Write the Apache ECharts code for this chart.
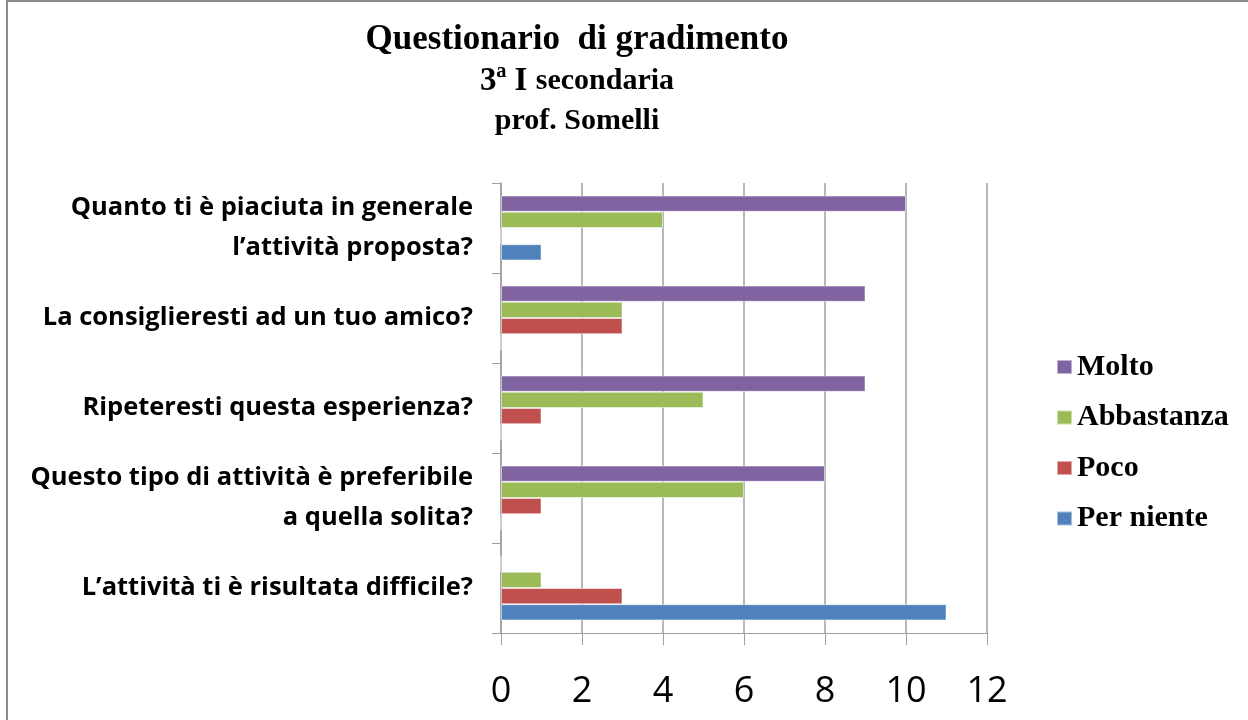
<!DOCTYPE html>
<html>
<head>
<meta charset="utf-8">
<script src="https://cdn.jsdelivr.net/npm/echarts@6/dist/echarts.min.js"></script>
<style>
  html, body { margin: 0; padding: 0; background: #fff; }
  #chart { width: 1248px; height: 720px; }
</style>
</head>
<body>
<div id="chart"></div>
<script>
// categories, bottom to top as the y axis draws them
const categories = [
  "L\u2019attività ti è risultata difficile?",
  "Questo tipo di attività è preferibile\na quella solita?",
  "Ripeteresti questa esperienza?",
  "La consiglieresti ad un tuo amico?",
  "Quanto ti è piaciuta in generale\nl\u2019attività proposta?"
];
const perNiente = [11, 0, 0, 0, 1];
const poco = [3, 1, 1, 3, 0];
const abbastanza = [1, 6, 5, 3, 4];
const molto = [0, 8, 9, 9, 10];
const xTicks = [0, 2, 4, 6, 8, 10, 12];

const chart = echarts.init(document.getElementById('chart'));

function bar(name, data, color) {
  return {
    name: name,
    type: 'bar',
    data: data,
    barGap: '0%',
    barCategoryGap: '28%',
    itemStyle: { color: color, borderColor: 'rgba(255,255,255,0.5)', borderWidth: 1 }
  };
}

chart.setOption({
  animation: false,
  title: {
    text: '{a|Questionario  di gradimento}\n{b|3ª I }{c|secondaria}\n{c|prof. Somelli}',
    left: 572,
    top: 14,
    textAlign: 'center',
    textStyle: {
      rich: {
        a: { fontFamily: 'Liberation Serif', fontWeight: 'bold', fontSize: 35, color: '#000', lineHeight: 42 },
        b: { fontFamily: 'Liberation Serif', fontWeight: 'bold', fontSize: 33, color: '#000', lineHeight: 40 },
        c: { fontFamily: 'Liberation Serif', fontWeight: 'bold', fontSize: 30, color: '#000', lineHeight: 40 }
      }
    }
  },
  legend: {
    orient: 'vertical',
    left: 1051,
    top: 347,
    itemGap: 20.5,
    itemWidth: 15,
    itemHeight: 14,
    icon: 'rect',
    data: ['Molto', 'Abbastanza', 'Poco', 'Per niente'],
    textStyle: { fontFamily: 'Liberation Serif', fontWeight: 'bold', fontSize: 30, color: '#000' }
  },
  grid: { left: 501, right: 261, top: 183, bottom: 87, containLabel: false },
  xAxis: {
    type: 'value',
    min: 0,
    max: 12,
    interval: 2,
    axisLine: { show: true, lineStyle: { color: '#a0a0a0' } },
    axisTick: { show: true, length: 12, lineStyle: { color: '#a0a0a0' } },
    splitLine: { show: true, lineStyle: { color: '#a0a0a0', width: 1.5 } },
    axisLabel: {
      margin: 41,
      fontFamily: 'Open Sans',
      fontSize: 36,
      color: '#000',
      formatter: function (v) { return xTicks.indexOf(v) >= 0 ? String(v) : ''; }
    }
  },
  yAxis: {
    type: 'category',
    data: categories,
    axisLine: { show: true, lineStyle: { color: '#a0a0a0', width: 1.5 } },
    axisTick: { show: true, length: 9, lineStyle: { color: '#a0a0a0' } },
    axisLabel: {
      margin: 28,
      fontFamily: 'Open Sans',
      fontWeight: 'bold',
      fontSize: 25.5,
      lineHeight: 40,
      color: '#000',
      align: 'right'
    }
  },
  graphic: [{
    type: 'rect',
    shape: { x: 7, y: 1, width: 1250, height: 730 },
    style: { fill: 'none', stroke: '#8c8c8c', lineWidth: 2 }
  }],
  series: [
    bar('Molto', molto, '#8064A2'),
    bar('Abbastanza', abbastanza, '#9BBB59'),
    bar('Poco', poco, '#C0504D'),
    bar('Per niente', perNiente, '#4F81BD')
  ]
});
</script>
</body>
</html>
